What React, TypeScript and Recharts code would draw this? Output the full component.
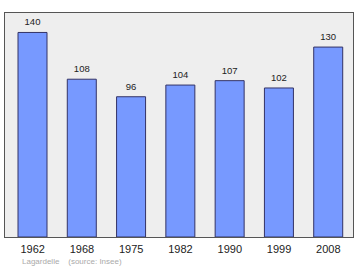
import { BarChart, Bar, XAxis, YAxis, CartesianGrid, LabelList } from "recharts";

const YEARS = ["1962", "1968", "1975", "1982", "1990", "1999", "2008"];
const POPULATION = [140, 108, 96, 104, 107, 102, 130];
const Y_MAX = 154;

const BAR_FILL = "#7799ff";
const BAR_STROKE = "#333366";
const BORDER = "#555555";
const FONT = "'Liberation Sans', Arial, sans-serif";

const W = 360;
const H = 270;
const MARGIN = { top: 12, right: 6, left: 4, bottom: 0 };
const X_AXIS_H = 33;

const data = YEARS.map((year, i) => ({ year, pop: POPULATION[i] }));

export default function App() {
  return (
    <div style={{ position: "absolute", left: 0, top: 0, width: W, height: H, background: "#fff", fontFamily: FONT }}>
      <BarChart width={W} height={H} data={data} margin={MARGIN} barSize={29}>
        <CartesianGrid fill="#eeeeee" horizontal={false} vertical={false} />
        <XAxis
          dataKey="year"
          padding={{ left: 4, right: 1 }}
          axisLine={false}
          tickLine={false}
          tick={{ fontSize: 11, fill: "#222222", fontFamily: FONT }}
          tickMargin={2}
          height={X_AXIS_H}
        />
        <YAxis domain={[0, Y_MAX]} allowDataOverflow hide />
        <Bar
          dataKey="pop"
          fill={BAR_FILL}
          stroke={BAR_STROKE}
          strokeWidth={1}
          isAnimationActive={false}
        >
          <LabelList dataKey="pop" position="top" offset={7} style={{ fontSize: 9.5, fill: "#222222", fontFamily: FONT }} />
        </Bar>
      </BarChart>
      {/* frame round the plot area */}
      <div
        style={{
          position: "absolute",
          left: MARGIN.left,
          top: MARGIN.top,
          width: W - MARGIN.left - MARGIN.right,
          height: H - MARGIN.top - X_AXIS_H + 1,
          boxSizing: "border-box",
          border: `1px solid ${BORDER}`,
          pointerEvents: "none",
        }}
      />
      <div style={{ position: "absolute", left: 22, top: 257, fontSize: 8, lineHeight: "10px", color: "#aaaaaa", whiteSpace: "pre", fontFamily: FONT }}>
        {"Lagardelle    (source: Insee)"}
      </div>
    </div>
  );
}
